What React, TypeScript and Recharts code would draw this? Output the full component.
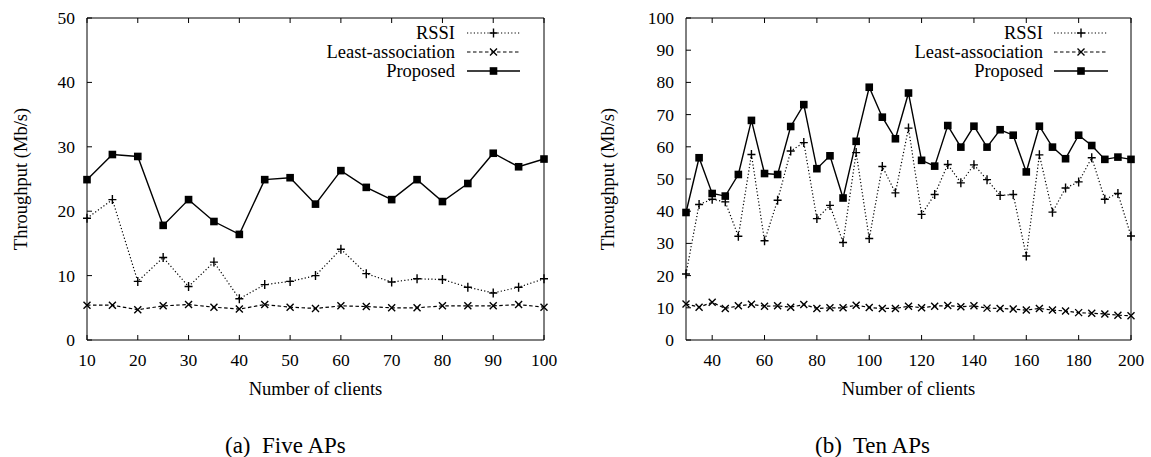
import React from 'react';
import { LineChart, Line, XAxis, YAxis } from 'recharts';

// (a) Five APs
const clientsA = [10, 15, 20, 25, 30, 35, 40, 45, 50, 55, 60, 65, 70, 75, 80, 85, 90, 95, 100];
const rssiA = [18.9, 21.8, 9.1, 12.8, 8.3, 12.1, 6.4, 8.6, 9.1, 10.0, 14.1, 10.3, 9.0, 9.5, 9.4, 8.2, 7.3, 8.2, 9.5];
const leastA = [5.4, 5.4, 4.7, 5.3, 5.5, 5.1, 4.8, 5.5, 5.1, 4.9, 5.3, 5.2, 5.0, 5.0, 5.3, 5.3, 5.3, 5.5, 5.1];
const proposedA = [24.9, 28.8, 28.5, 17.8, 21.8, 18.4, 16.4, 24.9, 25.2, 21.1, 26.3, 23.7, 21.8, 24.9, 21.5, 24.3, 29.0, 26.9, 28.1];
const xTicksA = [10, 20, 30, 40, 50, 60, 70, 80, 90, 100];
const yTicksA = [0, 10, 20, 30, 40, 50];

// (b) Ten APs
const clientsB = [30, 35, 40, 45, 50, 55, 60, 65, 70, 75, 80, 85, 90, 95, 100, 105, 110, 115, 120, 125, 130, 135, 140, 145, 150, 155, 160, 165, 170, 175, 180, 185, 190, 195, 200];
const rssiB = [20.5, 42.1, 43.7, 42.9, 32.2, 57.6, 30.8, 43.4, 58.7, 61.3, 37.7, 41.8, 30.3, 58.2, 31.5, 53.9, 45.7, 65.8, 39.0, 45.2, 54.5, 48.8, 54.4, 49.8, 44.9, 45.2, 26.1, 57.5, 39.7, 47.2, 49.1, 56.6, 43.7, 45.5, 32.3];
const leastB = [11.2, 10.2, 11.7, 9.8, 10.6, 11.1, 10.5, 10.6, 10.2, 11.0, 9.8, 10.0, 10.0, 10.8, 10.1, 9.8, 9.8, 10.5, 10.0, 10.5, 10.7, 10.3, 10.6, 9.9, 9.8, 9.6, 9.3, 9.8, 9.3, 9.0, 8.5, 8.3, 8.1, 7.7, 7.5];
const proposedB = [39.6, 56.6, 45.5, 44.7, 51.4, 68.2, 51.7, 51.4, 66.3, 73.1, 53.2, 57.2, 44.1, 61.7, 78.5, 69.2, 62.5, 76.7, 55.8, 54.0, 66.6, 59.9, 66.4, 59.9, 65.3, 63.6, 52.2, 66.4, 59.9, 56.3, 63.6, 60.4, 56.1, 56.8, 56.1];
const xTicksB = [40, 60, 80, 100, 120, 140, 160, 180, 200];
const yTicksB = [0, 10, 20, 30, 40, 50, 60, 70, 80, 90, 100];

const FONT = '"Liberation Serif", serif';
const TICK = 5;

const rowsA = clientsA.map((c, i) => ({ clients: c, rssi: rssiA[i], least: leastA[i], proposed: proposedA[i] }));
const rowsB = clientsB.map((c, i) => ({ clients: c, rssi: rssiB[i], least: leastB[i], proposed: proposedB[i] }));

const PlusDot = (p: any) => {
    const { cx, cy, index } = p;
    if (cx == null || cy == null) return <g key={index} />;
    return <path key={index} d={`M${cx - 4},${cy}H${cx + 4}M${cx},${cy - 4.5}V${cy + 4.5}`} stroke="#000" strokeWidth={1.4} fill="none" />;
};
const CrossDot = (p: any) => {
    const { cx, cy, index } = p;
    if (cx == null || cy == null) return <g key={index} />;
    return <path key={index} d={`M${cx - 3.5},${cy - 3.5}L${cx + 3.5},${cy + 3.5}M${cx - 3.5},${cy + 3.5}L${cx + 3.5},${cy - 3.5}`} stroke="#000" strokeWidth={1.4} fill="none" />;
};
const SquareDot = (p: any) => {
    const { cx, cy, index } = p;
    if (cx == null || cy == null) return <g key={index} />;
    return <rect key={index} x={cx - 3.8} y={cy - 3.8} width={7.6} height={7.6} fill="#000" />;
};

const BottomTick = (p: any) => (
    <g>
        <line x1={p.x} x2={p.x} y1={p.y} y2={p.y - TICK} stroke="#000" />
        <text x={p.x} y={p.y + 26} textAnchor="middle" fontSize={17.5} fontFamily={FONT} fill="#000">{p.payload.value}</text>
    </g>
);
const TopTick = (p: any) => <line x1={p.x} x2={p.x} y1={p.y} y2={p.y + TICK} stroke="#000" />;
const LeftTick = (p: any) => (
    <g>
        <line x1={p.x} x2={p.x + TICK} y1={p.y} y2={p.y} stroke="#000" />
        <text x={p.x - 12} y={p.y + 6} textAnchor="end" fontSize={17.5} fontFamily={FONT} fill="#000">{p.payload.value}</text>
    </g>
);
const RightTick = (p: any) => <line x1={p.x} x2={p.x - TICK} y1={p.y} y2={p.y} stroke="#000" />;

interface PanelProps {
    data: any[];
    width: number;
    leftW: number;
    rightPad: number;
    xDomain: [number, number];
    xTicks: number[];
    yDomain: [number, number];
    yTicks: number[];
    yTitleX: number;
}

function Panel({ data, width, leftW, rightPad, xDomain, xTicks, yDomain, yTicks, yTitleX }: PanelProps) {
    return (
        <LineChart width={width} height={457} data={data} margin={{ top: 17, right: rightPad, bottom: 57, left: 0 }}>
            <XAxis
                xAxisId="b" dataKey="clients" type="number" domain={xDomain} ticks={xTicks} interval={0}
                tickSize={0} tickMargin={0} tickLine={false} axisLine={{ stroke: '#000' }} height={60}
                tick={(p: any) => <BottomTick {...p} />}
                label={{
                    content: (lp: any) => (
                        <text x={lp.viewBox.x + lp.viewBox.width / 2} y={lp.viewBox.y + 55} textAnchor="middle" fontSize={18.5} fontFamily={FONT} fill="#000">
                            Number of clients
                        </text>
                    ),
                }}
            />
            <XAxis
                xAxisId="t" orientation="top" dataKey="clients" type="number" domain={xDomain} ticks={xTicks} interval={0}
                tickSize={0} tickMargin={0} tickLine={false} axisLine={{ stroke: '#000' }} height={1}
                tick={(p: any) => <TopTick {...p} />}
            />
            <YAxis
                yAxisId="l" type="number" domain={yDomain} ticks={yTicks} interval={0}
                tickSize={0} tickMargin={0} tickLine={false} axisLine={{ stroke: '#000' }} width={leftW}
                tick={(p: any) => <LeftTick {...p} />}
                label={{
                    content: (lp: any) => (
                        <text
                            transform={`translate(${lp.viewBox.x + yTitleX}, ${lp.viewBox.y + lp.viewBox.height / 2}) rotate(-90)`}
                            textAnchor="middle" dominantBaseline="central" fontSize={18.5} fontFamily={FONT} fill="#000"
                        >
                            Throughput (Mb/s)
                        </text>
                    ),
                }}
            />
            <YAxis
                yAxisId="r" orientation="right" type="number" domain={yDomain} ticks={yTicks} interval={0}
                tickSize={0} tickMargin={0} tickLine={false} axisLine={{ stroke: '#000' }} width={1}
                tick={(p: any) => <RightTick {...p} />}
            />
            <Line xAxisId="b" yAxisId="l" type="linear" dataKey="rssi" stroke="#000" strokeWidth={1.2} strokeDasharray="1.2 2.2" dot={PlusDot} activeDot={false} isAnimationActive={false} />
            <Line xAxisId="b" yAxisId="l" type="linear" dataKey="least" stroke="#000" strokeWidth={1.2} strokeDasharray="3.5 2.5" dot={CrossDot} activeDot={false} isAnimationActive={false} />
            <Line xAxisId="b" yAxisId="l" type="linear" dataKey="proposed" stroke="#000" strokeWidth={1.4} dot={SquareDot} activeDot={false} isAnimationActive={false} />
        </LineChart>
    );
}

const legendRows = [
    { name: 'RSSI', dash: '1.2 2.2', mark: 'plus' },
    { name: 'Least-association', dash: '3.5 2.5', mark: 'cross' },
    { name: 'Proposed', dash: undefined, mark: 'square' },
];

function LegendBlock({ textRight, x1, x2 }: { textRight: number; x1: number; x2: number }) {
    const mx = (x1 + x2) / 2;
    return (
        <g>
            {legendRows.map((r, i) => {
                const cy = 33 + i * 19;
                return (
                    <g key={r.name}>
                        <text x={textRight} y={cy + 6} textAnchor="end" fontSize={18.5} fontFamily={FONT} fill="#000">{r.name}</text>
                        <line x1={x1} x2={x2} y1={cy} y2={cy} stroke="#000" strokeWidth={r.dash ? 1.2 : 1.4} strokeDasharray={r.dash} />
                        {r.mark === 'plus' && <PlusDot cx={mx} cy={cy} index={0} />}
                        {r.mark === 'cross' && <CrossDot cx={mx} cy={cy} index={0} />}
                        {r.mark === 'square' && <SquareDot cx={mx} cy={cy} index={0} />}
                    </g>
                );
            })}
        </g>
    );
}

export default function App() {
    return (
        <div style={{ position: 'absolute', left: 0, top: 0, width: 1151, height: 457, background: '#fff', fontFamily: FONT }}>
            <div style={{ position: 'absolute', left: 0, top: 0 }}>
                <Panel data={rowsA} width={580} leftW={87} rightPad={35} xDomain={[10, 100]} xTicks={xTicksA} yDomain={[0, 50]} yTicks={yTicksA} yTitleX={21} />
            </div>
            <div style={{ position: 'absolute', left: 590, top: 0 }}>
                <Panel data={rowsB} width={561} leftW={96} rightPad={19} xDomain={[30, 200]} xTicks={xTicksB} yDomain={[0, 100]} yTicks={yTicksB} yTitleX={18} />
            </div>
            <svg width={1151} height={457} style={{ position: 'absolute', left: 0, top: 0, pointerEvents: 'none' }}>
                <LegendBlock textRight={455} x1={467} x2={520} />
                <LegendBlock textRight={1043} x1={1054} x2={1108} />
                <text x={225} y={453} fontSize={23} fontFamily={FONT} fill="#000" style={{ whiteSpace: 'pre' }}>(a)  Five APs</text>
                <text x={815} y={453} fontSize={23} fontFamily={FONT} fill="#000" style={{ whiteSpace: 'pre' }}>(b)  Ten APs</text>
            </svg>
        </div>
    );
}
